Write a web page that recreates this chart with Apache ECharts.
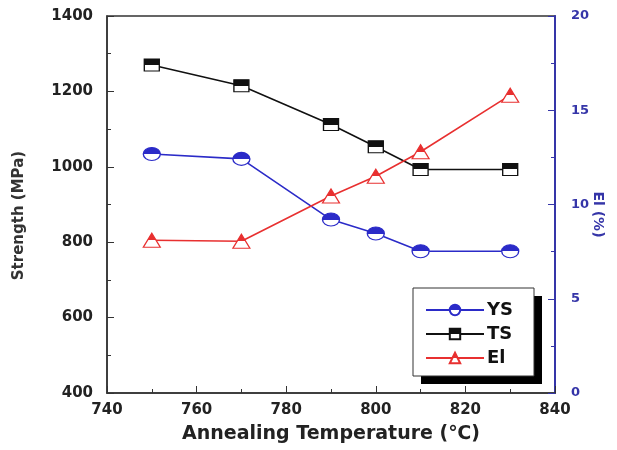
<!DOCTYPE html>
<html>
<head>
<meta charset="utf-8">
<script src="https://cdn.jsdelivr.net/npm/echarts@6/dist/echarts.min.js"></script>
<style>
html,body{margin:0;padding:0;background:#fff;}
#chart{width:617px;height:450px;}
</style>
</head>
<body>
<div id="chart"></div>
<script>
var temps = [750, 770, 790, 800, 810, 830];
var ysValues = [1034, 1021, 860, 823, 776, 776];
var tsValues = [1270, 1215, 1112, 1053, 993, 993];
var elValues = [8.1, 8.05, 10.45, 11.5, 12.8, 15.8];
var seriesNames = ['YS', 'TS', 'El'];

function halfFill(c) {
  return {type: 'linear', x: 0, y: 0, x2: 0, y2: 1, colorStops: [
    {offset: 0, color: c}, {offset: 0.5, color: c},
    {offset: 0.5, color: '#ffffff'}, {offset: 1, color: '#ffffff'}]};
}
function pairs(xs, vs) { return xs.map(function (x, i) { return [x, vs[i]]; }); }
function plain(v) { return String(v); }

var FONT = '"DejaVu Sans", "Liberation Sans", Arial, sans-serif';
var BLUE = '#2b2bc8', AXBLUE = '#3535a8', RED = '#e83030', BLACK = '#111111';

var chart = echarts.init(document.getElementById('chart'));
chart.setOption({
  animation: false,
  backgroundColor: '#ffffff',
  grid: {left: 107, right: 62, top: 16, bottom: 57, outerBoundsMode: 'none', containLabel: false,
         show: true, borderColor: '#333', borderWidth: 1.5},
  graphic: [
    {type: 'rect', z: 1, shape: {x: 421, y: 296, width: 121, height: 88}, style: {fill: '#000'}},
    {type: 'rect', z: 2, shape: {x: 413, y: 288, width: 121, height: 88}, style: {fill: '#fff', stroke: '#333', lineWidth: 1}}
  ],
  legend: {
    orient: 'vertical', left: 425, top: 301, z: 10,
    data: seriesNames,
    itemWidth: 58, itemHeight: 13, itemGap: 6,
    padding: 0,
    textStyle: {fontFamily: FONT, fontWeight: 'bold', fontSize: 18, color: '#111', padding: [0, 0, 0, -2]}
  },
  xAxis: {
    type: 'value', min: 740, max: 840, interval: 20,
    name: 'Annealing Temperature (℃)', nameLocation: 'middle', nameGap: 32,
    nameTextStyle: {fontFamily: FONT, fontWeight: 'bold', fontSize: 19, color: '#222'},
    axisLine: {lineStyle: {color: '#333', width: 1.5}},
    axisTick: {inside: true, length: 7, lineStyle: {color: '#333'}},
    minorTick: {show: true, splitNumber: 2, length: 4, lineStyle: {color: '#333'}},
    splitLine: {show: false},
    axisLabel: {fontFamily: FONT, fontWeight: 'bold', fontSize: 15, color: '#222', margin: 10, formatter: plain}
  },
  yAxis: [{
    type: 'value', min: 400, max: 1400, interval: 200, position: 'left',
    name: 'Strength (MPa)', nameLocation: 'middle', nameGap: 80,
    nameTextStyle: {fontFamily: FONT, fontWeight: 'bold', fontSize: 15, color: '#333', padding: [0, 22, 0, 0]},
    axisLine: {show: true, lineStyle: {color: '#333', width: 1.5}},
    axisTick: {inside: true, length: 7, lineStyle: {color: '#333'}},
    minorTick: {show: true, splitNumber: 2, length: 4, lineStyle: {color: '#333'}},
    splitLine: {show: false},
    axisLabel: {fontFamily: FONT, fontWeight: 'bold', fontSize: 15, color: '#222', margin: 14, formatter: plain}
  }, {
    type: 'value', min: 0, max: 20, interval: 5, position: 'right',
    name: 'El (%)', nameLocation: 'middle', nameGap: 36, nameRotate: -90, nameMoveOverlap: false,
    nameTextStyle: {fontFamily: FONT, fontWeight: 'bold', fontSize: 14, color: AXBLUE, padding: [0, 0, 0, 20]},
    axisLine: {show: true, lineStyle: {color: AXBLUE, width: 2}},
    axisTick: {inside: true, length: 7, lineStyle: {color: AXBLUE}},
    minorTick: {show: true, splitNumber: 2, length: 4, lineStyle: {color: AXBLUE}},
    splitLine: {show: false},
    axisLabel: {fontFamily: FONT, fontWeight: 'bold', fontSize: 13, color: AXBLUE, margin: 16, formatter: plain}
  }],
  series: [{
    name: 'YS', type: 'line', yAxisIndex: 0, data: pairs(temps, ysValues),
    symbol: 'circle', symbolSize: [17, 13],
    lineStyle: {color: BLUE, width: 1.6},
    itemStyle: {color: halfFill(BLUE), borderColor: BLUE, borderWidth: 1.2}
  }, {
    name: 'TS', type: 'line', yAxisIndex: 0, data: pairs(temps, tsValues),
    symbol: 'rect', symbolSize: [15, 12],
    lineStyle: {color: BLACK, width: 1.6},
    itemStyle: {color: halfFill(BLACK), borderColor: BLACK, borderWidth: 1.2}
  }, {
    name: 'El', type: 'line', yAxisIndex: 1, data: pairs(temps, elValues),
    symbol: 'triangle', symbolSize: [17, 14],
    lineStyle: {color: RED, width: 1.6},
    itemStyle: {color: halfFill(RED), borderColor: RED, borderWidth: 1.2}
  }]
});
</script>
</body>
</html>
